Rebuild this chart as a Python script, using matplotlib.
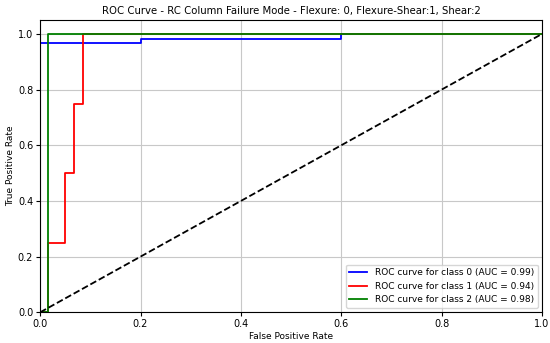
import matplotlib

matplotlib.use("Agg")
import matplotlib.pyplot as plt

# ROC points
fpr_0 = [0.0, 0.0, 0.2, 0.2, 0.6, 0.6, 1.0]
tpr_0 = [0.0, 0.967, 0.967, 0.983, 0.983, 1.0, 1.0]

fpr_1 = [0.0, 0.015, 0.015, 0.05, 0.05, 0.068, 0.068, 0.085, 0.085, 1.0]
tpr_1 = [0.0, 0.0, 0.25, 0.25, 0.5, 0.5, 0.75, 0.75, 1.0, 1.0]

fpr_2 = [0.0, 0.015, 0.015, 1.0]
tpr_2 = [0.0, 0.0, 1.0, 1.0]

auc = [0.99, 0.94, 0.98]
colors = ["blue", "red", "green"]

plt.rcParams["font.size"] = 7

fig, ax = plt.subplots(figsize=(5.5, 3.43), dpi=100)
fig.subplots_adjust(left=0.073, right=0.9855, top=0.9417, bottom=0.0895)

curves = [(fpr_0, tpr_0), (fpr_1, tpr_1), (fpr_2, tpr_2)]
for i, (fpr, tpr) in enumerate(curves):
    ax.plot(fpr, tpr, color=colors[i], lw=1.3,
            label=f"ROC curve for class {i} (AUC = {auc[i]:.2f})")
ax.plot([0, 1], [0, 1], "k--", lw=1.3)

ax.set_xlim(0, 1)
ax.set_ylim(0, 1.05)
ax.set_xlabel("False Positive Rate", fontsize=6.5, labelpad=2)
ax.set_ylabel("True Positive Rate", fontsize=6.5, labelpad=2)
ax.set_title("ROC Curve - RC Column Failure Mode - Flexure: 0, Flexure-Shear:1, Shear:2",
             fontsize=7.3, pad=4)
ax.tick_params(labelsize=7, length=3, pad=2)
ax.grid(True, color="#c8c8c8", lw=0.8)
ax.legend(loc="lower right", fontsize=6.5)

fig.savefig("out.png", dpi=100)
